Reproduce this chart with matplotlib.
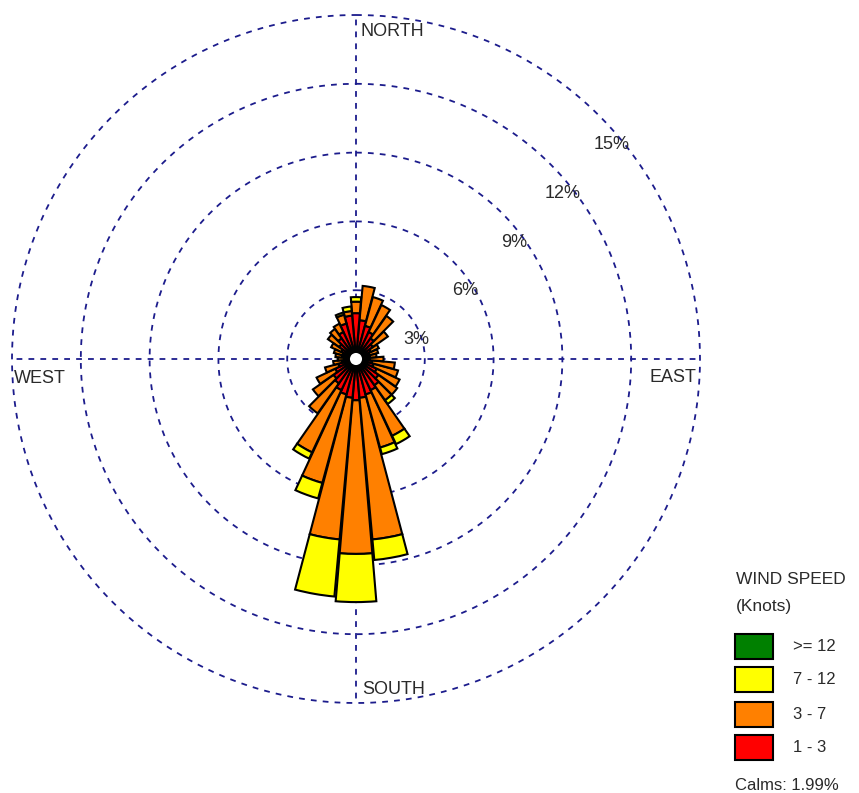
import numpy as np
import matplotlib
matplotlib.use("Agg")
import matplotlib.pyplot as plt
from matplotlib.patches import Circle, Rectangle

# ---------------- data ----------------
directions = list(range(0, 360, 10))  # degrees (wind from)
# percentage of time per speed class
speed_1_3 = [2.0, 1.7, 1.5, 1.3, 1.1, 0.9, 0.7, 0.6, 0.6, 0.6, 0.7, 0.8,
             1.0, 1.2, 1.4, 1.5, 1.6, 1.7, 1.8, 1.7, 1.6, 1.5, 1.3, 1.2,
             1.0, 0.8, 0.6, 0.5, 0.6, 0.6, 0.7, 0.9, 1.1, 1.3, 1.6, 1.9]
speed_3_7 = [0.5, 1.5, 1.3, 1.3, 1.2, 0.8, 0.4, 0.4, 0.3, 0.6, 1.0, 1.1,
             1.1, 1.0, 0.8, 2.2, 2.4, 6.2, 6.7, 6.2, 4.0, 3.0, 1.6, 1.1,
             0.9, 0.6, 0.4, 0.3, 0.3, 0.4, 0.5, 0.6, 0.5, 0.4, 0.4, 0.2]
speed_7_12 = [0.2, 0.0, 0.0, 0.0, 0.0, 0.0, 0.0, 0.0, 0.0, 0.0, 0.0, 0.0,
              0.0, 0.0, 0.2, 0.4, 0.3, 0.9, 2.1, 2.5, 0.7, 0.3, 0.0, 0.0,
              0.0, 0.0, 0.0, 0.0, 0.0, 0.0, 0.0, 0.0, 0.0, 0.0, 0.1, 0.2]
speed_ge_12 = [0.0] * 36

class_labels = [">= 12", "7 - 12", "3 - 7", "1 - 3"]
class_colors = ["#008000", "#ffff00", "#ff8000", "#ff0000"]
ring_values = [3, 6, 9, 12, 15]
ring_labels = ["3%", "6%", "9%", "12%", "15%"]
calms = 1.99

# ---------------- figure ----------------
W, H = 859, 793
fig = plt.figure(figsize=(W / 100, H / 100), dpi=100)
plt.rcParams['font.family'] = ['Liberation Sans', 'DejaVu Sans']

cx, cy, R = 356, 359, 344  # pixel centre and radius of 15% ring
ax = fig.add_axes([(cx - R) / W, (H - cy - R) / H, 2 * R / W, 2 * R / H],
                  projection='polar')
ax.set_theta_zero_location('N')
ax.set_theta_direction(-1)
rmax = ring_values[-1]
ax.set_ylim(0, rmax)
ax.grid(False)
ax.set_xticks([])
ax.set_yticks([])
ax.spines['polar'].set_visible(False)
ax.patch.set_alpha(0)

grid_col = "#1c1c8c"
dash = (0, (3.2, 3.4))
th = np.linspace(0, 2 * np.pi, 720)
for rv in ring_values:
    ax.plot(th, np.full_like(th, rv), color=grid_col, lw=1.3,
            ls=dash, zorder=1, clip_on=False)
for ang in [0, 90, 180, 270]:
    ax.plot([np.deg2rad(ang)] * 2, [0, rmax], color=grid_col, lw=1.3,
            ls=dash, zorder=1, clip_on=False)

# bars
theta = np.deg2rad(directions)
width = np.deg2rad(9.6)
classes = [speed_1_3, speed_3_7, speed_7_12, speed_ge_12]
cols = ["#ff0000", "#ff8000", "#ffff00", "#008000"]
order = np.argsort([-(a + b + c + d) for a, b, c, d in zip(*classes)])
for i in order:
    bottom = 0.0
    for vals, col in zip(classes, cols):
        v = vals[i]
        if v > 0:
            ax.bar(theta[i], v, width=width, bottom=bottom, color=col,
                   edgecolor='black', linewidth=1.5, zorder=3)
        bottom += v

# calm circle
ax.add_patch(Circle((0.5, 0.5), 8.5 / (2 * R), transform=ax.transAxes,
                    facecolor='white', edgecolor='black', lw=3.5, zorder=6))

tcol = "#2a2a2a"
fs = 13
for rv, lab in zip(ring_values, ring_labels):
    ax.annotate(lab, xy=(np.deg2rad(45), rv), xytext=(12, -29),
                textcoords='offset pixels', ha='center', va='center',
                fontsize=fs, color=tcol, zorder=7)

ax.annotate("NORTH", xy=(0, rmax), xytext=(5, -17), textcoords='offset pixels',
            ha='left', va='center', fontsize=fs, color=tcol)
ax.annotate("SOUTH", xy=(np.pi, rmax), xytext=(6, 13), textcoords='offset pixels',
            ha='left', va='center', fontsize=fs, color=tcol)
ax.annotate("WEST", xy=(1.5 * np.pi, rmax), xytext=(2, -19), textcoords='offset pixels',
            ha='left', va='center', fontsize=fs, color=tcol)
ax.annotate("EAST", xy=(0.5 * np.pi, rmax), xytext=(-4, -19), textcoords='offset pixels',
            ha='right', va='center', fontsize=fs, color=tcol)

# legend (figure pixel coordinates)
def fx(x):
    return x / W

def fy(y):
    return 1 - y / H

fig.text(fx(736), fy(580), "WIND SPEED", fontsize=12.5, color=tcol, ha='left', va='center')
fig.text(fx(736), fy(607), "(Knots)", fontsize=12.5, color=tcol, ha='left', va='center')
box_tops = [634, 667, 702, 735]
for top, lab, col in zip(box_tops, class_labels, class_colors):
    fig.patches.append(Rectangle((fx(735), fy(top + 25)), 38 / W, 25 / H,
                                 transform=fig.transFigure, facecolor=col,
                                 edgecolor='black', lw=1.5))
    fig.text(fx(793), fy(top + 12.5), lab, fontsize=12, color=tcol,
             ha='left', va='center')
fig.text(fx(735), fy(785), f"Calms: {calms:.2f}%", fontsize=12, color=tcol,
         ha='left', va='center')

fig.savefig("out.png", dpi=100)
